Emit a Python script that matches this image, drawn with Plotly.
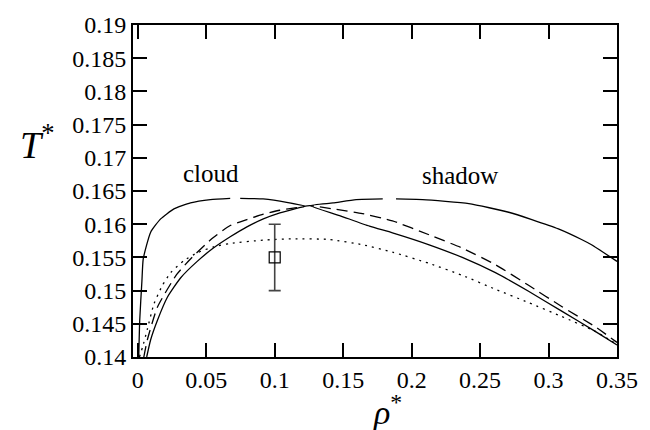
import plotly.graph_objects as go

# Cloud curve: low-density branch rising to the tip, then back down the inner branch
rho_cloud = [0.0007, 0.0014, 0.003, 0.004, 0.0094, 0.0167, 0.0264, 0.0385, 0.053, 0.0675, None,
             0.0748, 0.0915, 0.1087, 0.122,
             0.116, 0.1038, 0.0917, 0.0797, 0.0675, 0.0552, 0.0434, 0.0312, 0.0216, 0.0143, 0.0094, 0.0065]
T_cloud = [0.14, 0.1455, 0.1514, 0.1548, 0.1588, 0.1608, 0.1623, 0.1632, 0.1637, 0.1639, None,
           0.1639, 0.1638, 0.1633, 0.1627,
           0.1624, 0.1617, 0.1608, 0.1596, 0.1581, 0.1564, 0.1544, 0.1519, 0.149, 0.1455, 0.1426, 0.14]

# Shadow curve: high-density branch up to the tip, then the upper branch out to 0.35
rho_shadow = [0.35, 0.3338, 0.3096, 0.2854, 0.2612, 0.237, 0.2128, 0.186, 0.1692, 0.1474, 0.1261,
              0.1426, 0.1595, 0.1789, None,
              0.1886, 0.208, 0.2418, 0.2709, 0.2878, 0.3072, 0.3241, 0.3314, 0.35]
T_shadow = [0.1418, 0.1439, 0.1469, 0.1499, 0.1527, 0.155, 0.1569, 0.1587, 0.1597, 0.1613, 0.1628,
            0.1632, 0.1637, 0.1638, None,
            0.1638, 0.1637, 0.1631, 0.1618, 0.1607, 0.1593, 0.1577, 0.1569, 0.1544]

# Coexistence curve (dashed)
rho_coex = [0.0044, 0.007, 0.0143, 0.0283, 0.0392, 0.054, 0.0675, 0.0797, 0.0917,
            0.1038, 0.116, 0.1256, 0.1426, 0.164, 0.186, 0.2128, 0.237, 0.2612, 0.2854, 0.3096,
            0.3338, 0.35]
T_coex = [0.14, 0.1426, 0.1475, 0.1524, 0.1549, 0.1578, 0.1598, 0.1607, 0.1615,
          0.1621, 0.1625, 0.1628, 0.1623, 0.1616, 0.1605, 0.1584, 0.1564, 0.1539, 0.1508, 0.1476,
          0.1446, 0.1422]

# Dotted curve
rho_dot = [0.0012, 0.0035, 0.007, 0.0118, 0.018, 0.024, 0.0336, 0.0434, 0.0554, 0.0675, 0.0915,
           0.1133, 0.14, 0.1643, 0.186, 0.2128, 0.237, 0.2612, 0.2854, 0.3096, 0.3338, 0.35]
T_dot = [0.14, 0.1415, 0.1442, 0.148, 0.1508, 0.1527, 0.1545, 0.1557, 0.1566, 0.1571, 0.1576,
         0.1578, 0.1577, 0.1569, 0.1558, 0.1541, 0.1523, 0.1502, 0.1482, 0.1461, 0.1439, 0.1419]

# Simulation estimate with error bar
rho_sim = [0.1]
T_sim = [0.155]
T_sim_err = [0.005]

x_ticks = [0, 0.05, 0.1, 0.15, 0.2, 0.25, 0.3, 0.35]
x_ticktext = ["0", "0.05", "0.1", "0.15", "0.2", "0.25", "0.3", "0.35"]
y_ticks = [0.14, 0.145, 0.15, 0.155, 0.16, 0.165, 0.17, 0.175, 0.18, 0.185, 0.19]
y_ticktext = ["0.14", "0.145", "0.15", "0.155", "0.16", "0.165", "0.17", "0.175", "0.18", "0.185", "0.19"]

SERIF = "Liberation Serif, DejaVu Serif, serif"
LW = 1.3
CURVE = dict(color="black", width=LW, shape="spline", smoothing=0.5)

fig = go.Figure()
fig.add_trace(go.Scatter(x=rho_cloud, y=T_cloud, mode="lines", connectgaps=False, line=CURVE))
fig.add_trace(go.Scatter(x=rho_shadow, y=T_shadow, mode="lines", connectgaps=False, line=CURVE))
fig.add_trace(go.Scatter(x=rho_coex, y=T_coex, mode="lines", line=dict(CURVE, dash="11px,6px")))
fig.add_trace(go.Scatter(x=rho_dot, y=T_dot, mode="lines", line=dict(CURVE, dash="2px,5px")))
fig.add_trace(go.Scatter(x=rho_sim, y=T_sim, mode="markers",
                         marker=dict(symbol="square-open", size=11, color="black", line=dict(width=1.2)),
                         error_y=dict(type="data", array=T_sim_err, visible=True,
                                      color="#444444", thickness=1.6, width=6)))

axis_common = dict(
    showline=True, linewidth=2, linecolor="black", mirror="ticks",
    ticks="inside", ticklen=14, tickwidth=2, tickcolor="black",
    showgrid=False, zeroline=False,
    tickfont=dict(family=SERIF, size=24, color="black"),
)

ML, MR, MT, MB = 133, 29, 19, 73
pw = 650 - ML - MR
ph = 430 - MT - MB


def px_to_paper(px, py):
    # pixel position (from top-left of the page) to paper fractions
    return (px - ML) / pw, (430 - MB - py) / ph


t_x, t_y = px_to_paper(36, 138)
r_x, r_y = px_to_paper(390, 411)

fig.update_layout(
    width=650, height=430,
    margin=dict(l=ML, r=MR, t=MT, b=MB),
    paper_bgcolor="white", plot_bgcolor="white",
    showlegend=False,
    xaxis=dict(range=[-0.0035, 0.35], tickvals=x_ticks, ticktext=x_ticktext, **axis_common),
    yaxis=dict(range=[0.14, 0.19], tickvals=y_ticks, ticktext=y_ticktext, **axis_common),
    annotations=[
        dict(x=0.0537, y=0.1676, xref="x", yref="y", text="cloud", showarrow=False,
             font=dict(family=SERIF, size=25, color="black")),
        dict(x=0.2355, y=0.1673, xref="x", yref="y", text="shadow", showarrow=False,
             font=dict(family=SERIF, size=25, color="black")),
        dict(x=t_x, y=t_y, xref="paper", yref="paper", xanchor="center", yanchor="middle",
             text="<i>T</i><sup>*</sup>", showarrow=False,
             font=dict(family=SERIF, size=38, color="black")),
        dict(x=r_x, y=r_y, xref="paper", yref="paper", xanchor="center", yanchor="middle",
             text="<i>ρ</i><sup>*</sup>", showarrow=False,
             font=dict(family=SERIF, size=34, color="black")),
    ],
)

fig.write_html("out.html")
